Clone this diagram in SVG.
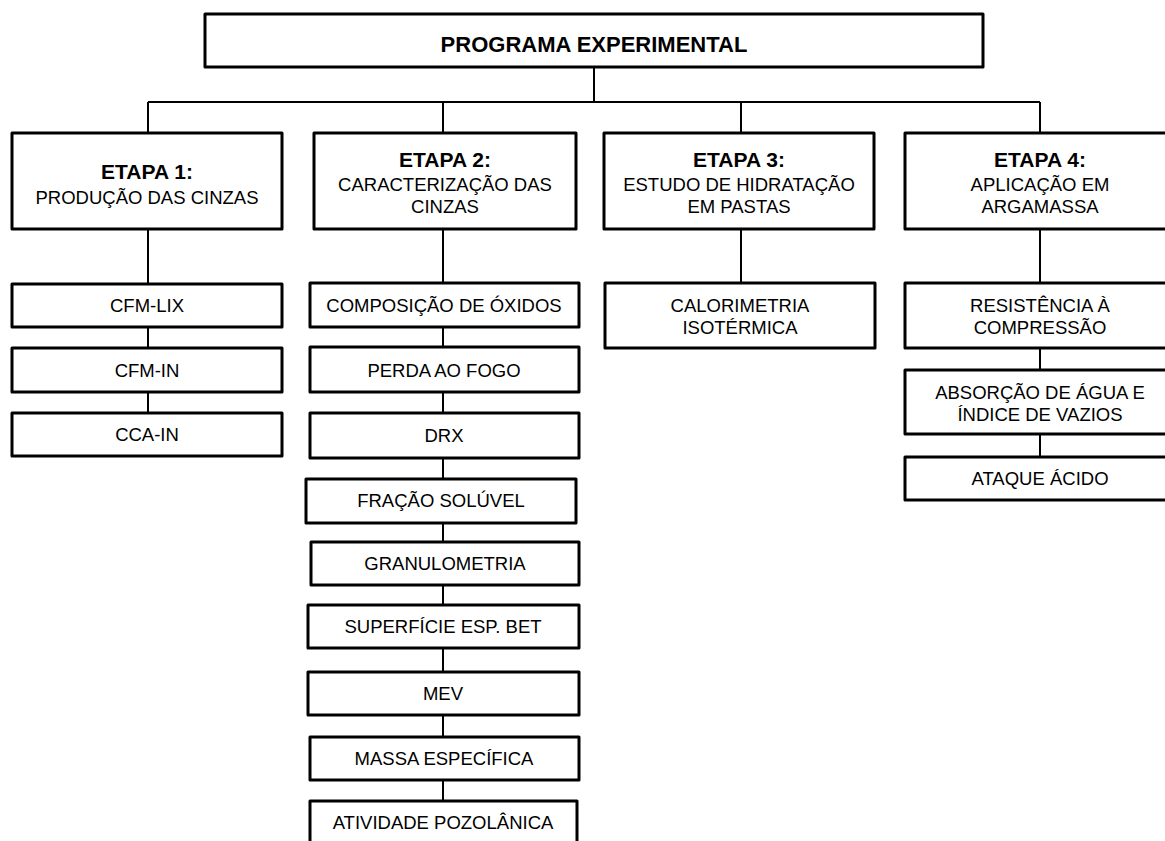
<svg xmlns="http://www.w3.org/2000/svg" width="1165" height="841" viewBox="0 0 1165 841">
<style>
.box{fill:#fff;stroke:#000;stroke-width:3;stroke-linejoin:round}
.con{fill:none;stroke:#000;stroke-width:2}
text{font-family:"Liberation Sans",Arial,sans-serif;fill:#000;text-anchor:middle}
.t{font-size:22px;font-weight:bold}
.h{font-size:21px;font-weight:bold}
.s{font-size:18.5px}
</style>
<rect width="1165" height="841" fill="#fff"/>
<g id="connectors">
<path class="con" d="M594,67V102M148,102H1040M148,102V133M443,102V133M741,102V133M1040,102V133"/>
<path class="con" d="M148,229V284M148,327V348M148,392V413"/>
<path class="con" d="M443,229V283M443,327V347M443,392V413M443,458V479M443,523V542M443,585V605M443,648V672M443,715V737M443,780V801"/>
<path class="con" d="M741,229V283"/>
<path class="con" d="M1040,229V283M1040,348V370M1040,434V457"/>
</g>
<g id="programa"><rect class="box" x="205" y="14" width="778" height="53"/><text class="t" x="594" y="52">PROGRAMA EXPERIMENTAL</text></g>
<g id="etapa1"><rect class="box" x="12" y="133" width="270" height="96"/><text class="h" x="147" y="179">ETAPA 1:</text><text class="s" x="147" y="204">PRODUÇÃO DAS CINZAS</text></g>
<g id="etapa2"><rect class="box" x="314" y="133" width="262" height="96"/><text class="h" x="445" y="167">ETAPA 2:</text><text class="s" x="445" y="191">CARACTERIZAÇÃO DAS</text><text class="s" x="445" y="213">CINZAS</text></g>
<g id="etapa3"><rect class="box" x="604" y="133" width="270" height="96"/><text class="h" x="739" y="167">ETAPA 3:</text><text class="s" x="739" y="191">ESTUDO DE HIDRATAÇÃO</text><text class="s" x="739" y="213">EM PASTAS</text></g>
<g id="etapa4"><rect class="box" x="905" y="133" width="270" height="96"/><text class="h" x="1040" y="167">ETAPA 4:</text><text class="s" x="1040" y="191">APLICAÇÃO EM</text><text class="s" x="1040" y="213">ARGAMASSA</text></g>
<g id="cfm-lix"><rect class="box" x="12" y="284" width="270" height="43"/><text class="s" x="147" y="312">CFM-LIX</text></g>
<g id="cfm-in"><rect class="box" x="12" y="348" width="270" height="44"/><text class="s" x="147" y="377">CFM-IN</text></g>
<g id="cca-in"><rect class="box" x="12" y="413" width="270" height="43"/><text class="s" x="147" y="441">CCA-IN</text></g>
<g id="composicao"><rect class="box" x="310" y="283" width="269" height="44"/><text class="s" x="444" y="312">COMPOSIÇÃO DE ÓXIDOS</text></g>
<g id="perda"><rect class="box" x="310" y="347" width="269" height="45"/><text class="s" x="444" y="377">PERDA AO FOGO</text></g>
<g id="drx"><rect class="box" x="310" y="413" width="269" height="45"/><text class="s" x="444" y="442">DRX</text></g>
<g id="fracao"><rect class="box" x="306" y="479" width="270" height="44"/><text class="s" x="441" y="507">FRAÇÃO SOLÚVEL</text></g>
<g id="granulometria"><rect class="box" x="311" y="542" width="268" height="43"/><text class="s" x="445" y="570">GRANULOMETRIA</text></g>
<g id="superficie"><rect class="box" x="308" y="605" width="271" height="43"/><text class="s" x="443" y="633">SUPERFÍCIE ESP. BET</text></g>
<g id="mev"><rect class="box" x="308" y="672" width="271" height="43"/><text class="s" x="443" y="700">MEV</text></g>
<g id="massa"><rect class="box" x="310" y="737" width="269" height="43"/><text class="s" x="444" y="765">MASSA ESPECÍFICA</text></g>
<g id="atividade"><rect class="box" x="310" y="801" width="267" height="60"/><text class="s" x="443" y="829">ATIVIDADE POZOLÂNICA</text></g>
<g id="calorimetria"><rect class="box" x="605" y="283" width="270" height="65"/><text class="s" x="740" y="312">CALORIMETRIA</text><text class="s" x="740" y="334">ISOTÉRMICA</text></g>
<g id="resistencia"><rect class="box" x="905" y="283" width="270" height="65"/><text class="s" x="1040" y="312">RESISTÊNCIA À</text><text class="s" x="1040" y="334">COMPRESSÃO</text></g>
<g id="absorcao"><rect class="box" x="905" y="370" width="270" height="64"/><text class="s" x="1040" y="399">ABSORÇÃO DE ÁGUA E</text><text class="s" x="1040" y="421">ÍNDICE DE VAZIOS</text></g>
<g id="ataque"><rect class="box" x="905" y="457" width="270" height="43"/><text class="s" x="1040" y="485">ATAQUE ÁCIDO</text></g>
</svg>
